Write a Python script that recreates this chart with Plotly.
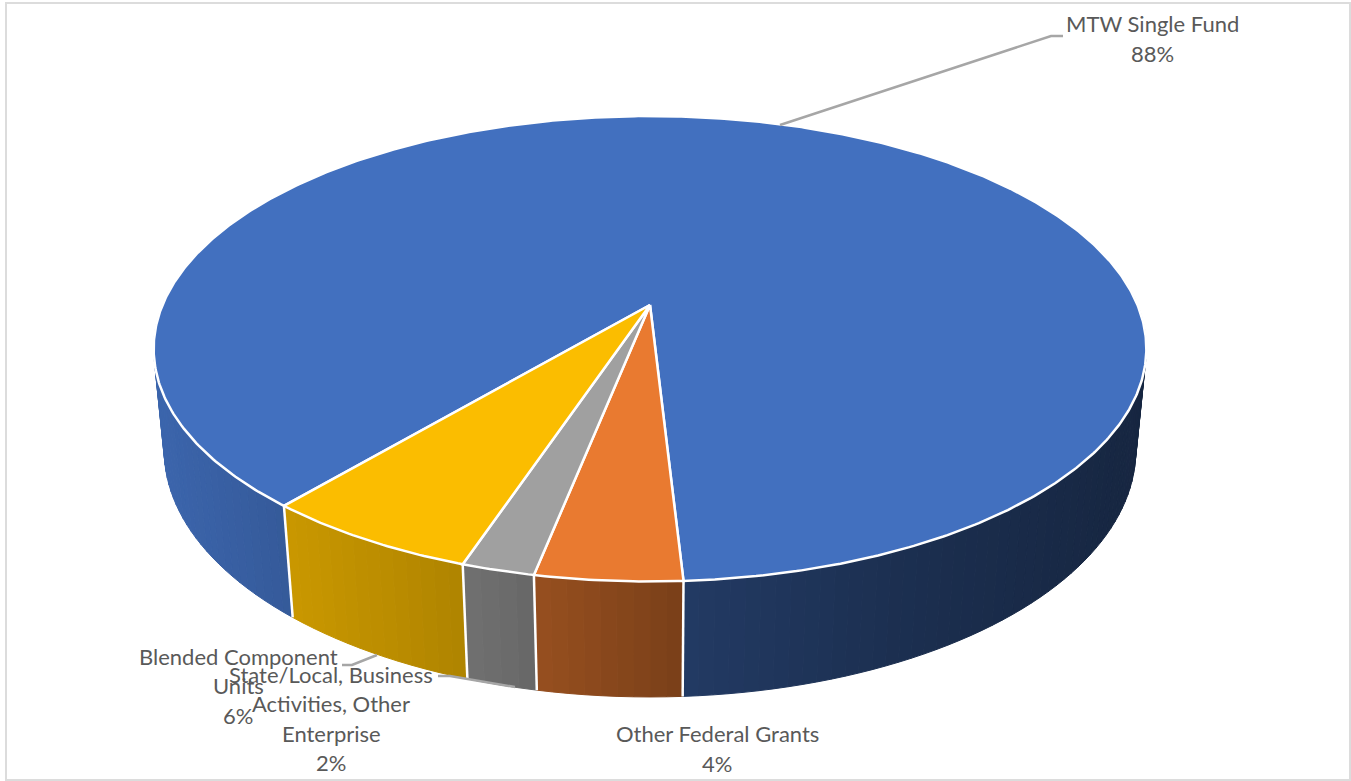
import numpy as np
import plotly.graph_objects as go

# Funding sources, clockwise from the start angle
categories = ["MTW Single Fund", "Other Federal Grants",
              "State/Local, Business<br>Activities, Other<br>Enterprise",
              "Blended Component<br>Units"]
values = [88, 4, 2, 6]
top_colors = ["#4270bf", "#e97a30", "#a0a0a0", "#fbbd00"]

# Label anchors: centre x and first-line y in page pixels
label_anchor = [(1152, 23.5), (717, 733.5), (331, 674), (238, 656)]
LINE_STEP = 29.5

# Leader lines from label to slice
leaders = [
    [(780, 125), (1051, 36), (1063, 36)],
    [(342, 665), (352, 665), (377, 655)],
    [(438, 676), (450, 676), (515, 687)],
]

# Camera model of the tilted disc
CX, CY = 650.0, 305.0
A, B = 487.5, 224.5
K = 0.188          # perspective along the depth direction
M = 0.021          # perspective along the thickness
D = 102.0          # thickness on screen
START_DEG = 220.0  # clockwise from the far side of the disc


def project(theta_deg, z=0.0):
    t = np.radians(theta_deg)
    u, v = np.sin(t), np.cos(t)
    w = 1 + K * v + M * z
    return CX + A * u / w, CY + (-B * v + D * z) / w


def shade(x):
    # Side walls darken from left to right
    return np.interp(x, [155, 290, 475, 555, 685, 900, 1144],
                     [0.90, 0.80, 0.69, 0.63, 0.52, 0.42, 0.34])


def scaled(hex_color, f):
    r, g, b = (int(hex_color[i:i + 2], 16) for i in (1, 3, 5))
    return f"rgb({r * f:.0f},{g * f:.0f},{b * f:.0f})"


spans = np.array(values) / sum(values) * 360.0
starts = START_DEG + np.concatenate([[0], np.cumsum(spans)[:-1]])

fig = go.Figure()

# Side walls, built from narrow strips so the shading varies along the rim
for start, span, color in zip(starts, spans, top_colors):
    edges = np.linspace(start, start + span, max(2, int(span / 1.5) + 1))
    for a0, a1 in zip(edges[:-1], edges[1:]):
        mid = (a0 + a1) / 2
        if np.cos(np.radians(mid)) > 0.25:
            continue
        xt0, yt0 = project(a0)
        xt1, yt1 = project(a1)
        xb1, yb1 = project(a1, 1)
        xb0, yb0 = project(a0, 1)
        c = scaled(color, float(shade((xt0 + xt1) / 2)))
        fig.add_trace(go.Scatter(
            x=[xt0, xt1, xb1, xb0, xt0], y=[yt0, yt1, yb1, yb0, yt0],
            mode="lines", fill="toself", fillcolor=c,
            line=dict(color=c, width=1), hoverinfo="skip", showlegend=False))

# White seams where neighbouring walls meet
for start in starts:
    if np.cos(np.radians(start)) < 0:
        xs, ys = zip(project(start), project(start, 1))
        fig.add_trace(go.Scatter(x=xs, y=ys, mode="lines",
                                 line=dict(color="white", width=2.5),
                                 hoverinfo="skip", showlegend=False))

# Top faces of the slices
for name, start, span, color in zip(categories, starts, spans, top_colors):
    arc = np.linspace(start, start + span, max(3, int(span * 2)))
    rx, ry = project(arc)
    fig.add_trace(go.Scatter(
        x=np.r_[CX, rx, CX], y=np.r_[CY, ry, CY],
        mode="lines", fill="toself", fillcolor=color, name=name.replace("<br>", " "),
        line=dict(color="white", width=2.5), hoverinfo="name", showlegend=False))

# Leader lines
for path in leaders:
    xs, ys = zip(*path)
    fig.add_trace(go.Scatter(x=xs, y=ys, mode="lines",
                             line=dict(color="#a6a6a6", width=2.5),
                             hoverinfo="skip", showlegend=False))

# Labels, one annotation per line so the line spacing is exact
annotations = []
for name, value, (lx, ly) in zip(categories, values, label_anchor):
    for i, line in enumerate(name.split("<br>") + [f"{value}%"]):
        annotations.append(dict(
            x=lx, y=ly + i * LINE_STEP, xref="x", yref="y", text=line,
            showarrow=False, xanchor="center", yanchor="middle",
            font=dict(family="Lato, Carlito, sans-serif", size=22, color="#595959")))

fig.update_layout(
    width=1351, height=781, margin=dict(l=0, r=0, t=0, b=0),
    paper_bgcolor="white", plot_bgcolor="white", showlegend=False,
    annotations=annotations,
    xaxis=dict(range=[0, 1351], visible=False, fixedrange=True),
    yaxis=dict(range=[781, 0], visible=False, fixedrange=True),
    shapes=[dict(type="rect", x0=6, y0=3, x1=1350, y1=780, xref="x", yref="y",
                 line=dict(color="#dcdcdc", width=2), layer="below")],
)

fig.write_html("out.html")
